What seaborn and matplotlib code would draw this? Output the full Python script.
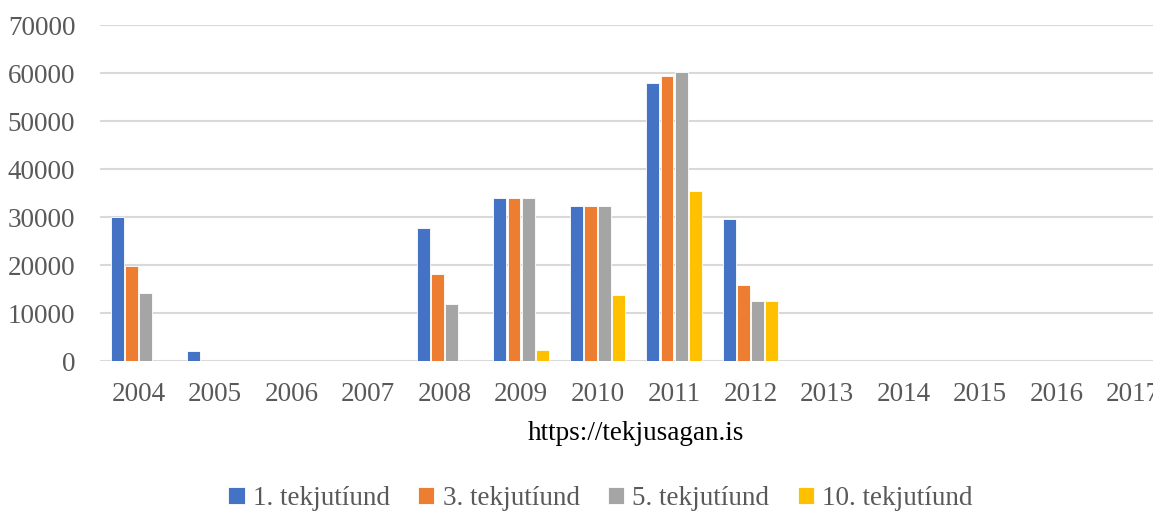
import matplotlib
matplotlib.use("Agg")
import matplotlib.pyplot as plt
import numpy as np
import pandas as pd
import seaborn as sns

years = [str(y) for y in range(2004, 2018)]
series = ["1. tekjutíund", "3. tekjutíund", "5. tekjutíund", "10. tekjutíund"]
nan = np.nan
tiund_1 = [30000, 2150, nan, nan, 27650, 33900, 32250, 57900, 29650, nan, nan, nan, nan, nan]
tiund_3 = [19800, nan, nan, nan, 18150, 33900, 32250, 59450, 15750, nan, nan, nan, nan, nan]
tiund_5 = [14150, nan, nan, nan, 11800, 33900, 32250, 60150, 12450, nan, nan, nan, nan, nan]
tiund_10 = [nan, nan, nan, nan, nan, 2250, 13750, 35400, 12450, nan, nan, nan, nan, nan]
colors = ["#4472C4", "#ED7D31", "#A5A5A5", "#FFC000"]

rows = []
for name, vals in zip(series, [tiund_1, tiund_3, tiund_5, tiund_10]):
    for y, v in zip(years, vals):
        rows.append({"ar": y, "hopur": name, "upphaed": v})
df = pd.DataFrame(rows)

sns.set_theme(style="white")
plt.rcParams["font.family"] = ["Liberation Serif", "DejaVu Serif"]
txt = "#595959"

fig = plt.figure(figsize=(11.53, 5.11), dpi=100)
ax = fig.add_axes([0.087, 0.2935, 0.9289, 0.6575])
sns.barplot(data=df, x="ar", y="upphaed", hue="hopur", order=years, hue_order=series,
            palette=colors, width=0.74, gap=0.1, ax=ax, saturation=1,
            edgecolor="white", linewidth=0.6, legend=True)

ax.set_ylim(0, 70000)
ax.set_xlim(-0.5, len(years) - 0.5)
ax.set_yticks(range(0, 70001, 10000))
ax.yaxis.grid(True, color="#d9d9d9", lw=1.5)
ax.set_axisbelow(True)
for s in ax.spines.values():
    s.set_visible(False)
ax.tick_params(axis="both", length=0, labelsize=19.5, colors=txt)
ax.tick_params(axis="y", pad=18)
ax.tick_params(axis="x", pad=15)
ax.set_ylabel("")
ax.set_xlabel("https://tekjusagan.is", fontsize=19.5, color="black", labelpad=10)

ax.legend(loc="center", bbox_to_anchor=(0.467, -0.41), ncol=4, frameon=False,
          fontsize=19.5, labelcolor=txt, handlelength=0.6, handleheight=0.6,
          handletextpad=0.3, columnspacing=1.05)

fig.savefig("out.png", dpi=100)
